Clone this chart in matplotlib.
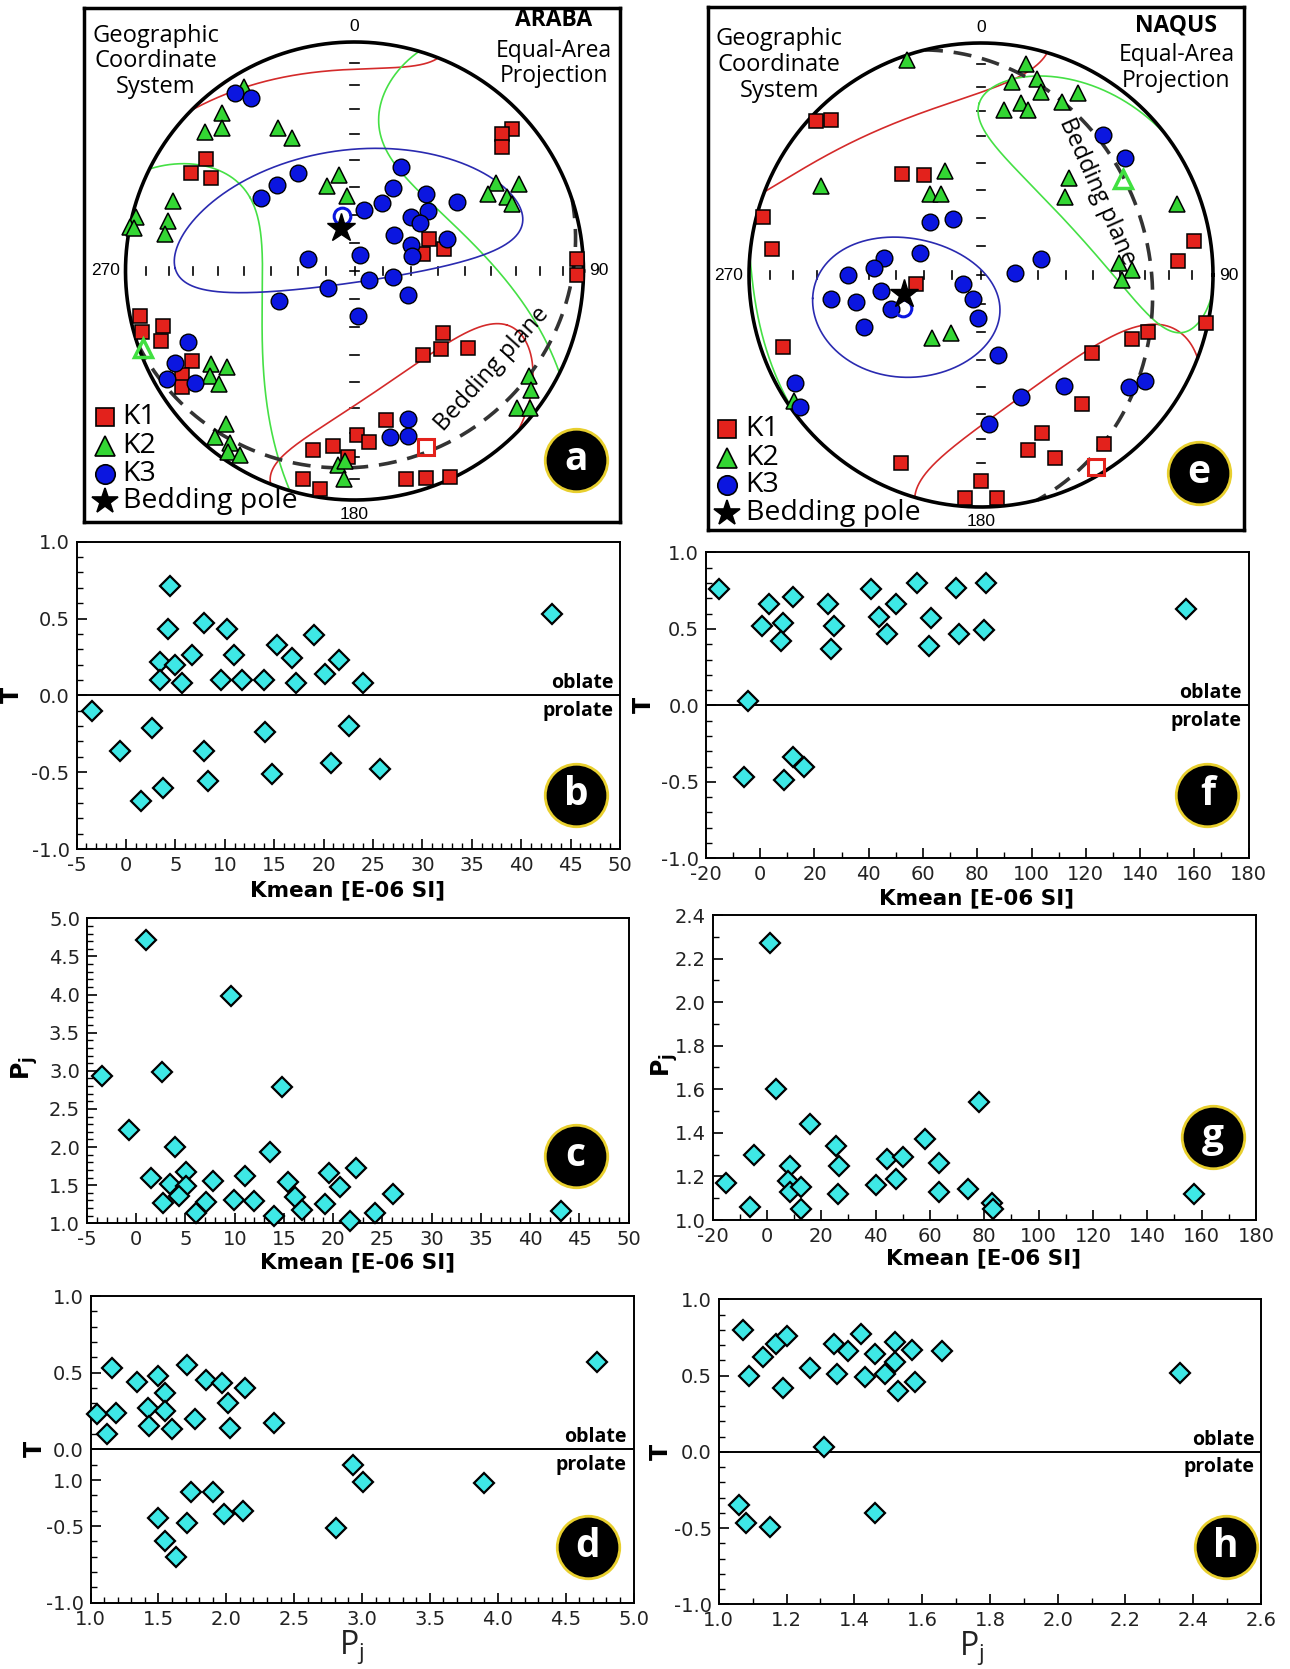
import numpy as np
import matplotlib
matplotlib.use("Agg")
import matplotlib.pyplot as plt
from matplotlib.ticker import MultipleLocator, FormatStrFormatter

plt.rcParams['font.family'] = ['DejaVu Sans']

# ---------------- stereonet data (trend, plunge in degrees) ----------------
# ARABA
araba_k1_trend = [48, 47, 50, 307, 301, 303, 67, 76, 76, 87, 91, 258, 254, 254, 250, 241, 239,
                  236, 125, 132, 141, 124, 168, 179, 175, 187, 193, 182, 194, 189, 166, 161, 155]
araba_k1_plunge = [8, 13, 17, 20, 18, 26, 61, 57, 65, 3, 3, 5, 4, 14, 11, 20, 13,
                   10, 51, 48, 51, 40, 34, 29, 26, 24, 21, 20, 7, 4, 7, 5, 1]
araba_k2_trend = [329, 320, 313, 317, 332, 335, 351, 342, 354, 291, 284, 285, 281, 281, 281, 58, 62, 60,
                  64, 67, 237, 233, 234, 230, 121, 124, 130, 128, 220, 220, 216, 215, 212, 185, 183, 183]
araba_k2_plunge = [7, 11, 12, 16, 30, 36, 55, 58, 63, 16, 2, 17, 0, 2, 17, 28, 20, 33,
                   27, 26, 26, 31, 23, 24, 12, 8, 8, 3, 14, 6, 8, 4, 6, 16, 18, 10]
araba_k3_trend = [326, 329, 330, 318, 308, 24, 25, 43, 56, 22, 9, 46, 51, 54, 48, 65, 71,
                  75, 285, 20, 237, 124, 99, 114, 248, 175, 247, 243, 240, 235, 160, 168, 162]
araba_k3_plunge = [7, 13, 49, 48, 47, 49, 57, 52, 45, 64, 68, 62, 56, 61, 71, 68, 55,
                   69, 73, 84, 79, 84, 76, 69, 61, 74, 22, 13, 6, 16, 32, 27, 25]
araba_mean_trend = [158, 250, 347]
araba_mean_plunge = [18, 2, 70]
araba_pole = (342, 74)
# confidence regions: centre, long-axis direction, semi-angles
araba_regions = [((159, 19), (113, 30), 46, 28),
                 ((247, 2), (307, 44), 66, 43),
                 ((350, 70), (271, 23), 65, 24)]

# NAQUS
naqus_k1_trend = [313, 316, 285, 277, 322, 330, 262, 250, 81, 86, 102, 109, 113, 125, 142, 159,
                  165, 158, 144, 203, 180, 184, 176]
naqus_k1_plunge = [3, 8, 3, 10, 44, 49, 67, 10, 8, 16, 1, 25, 30, 41, 30, 28,
                   23, 16, 11, 13, 12, 4, 4]
naqus_k2_trend = [341, 12, 9, 16, 18, 28, 13, 16, 25, 8, 341, 328, 334, 299, 42, 47, 70, 85,
                  88, 92, 218, 207, 236]
naqus_k2_plunge = [2, 8, 17, 13, 18, 12, 25, 27, 19, 29, 51, 56, 58, 22, 43, 49, 11, 40,
                   35, 39, 62, 67, 3]
naqus_k3_trend = [41, 51, 316, 333, 290, 280, 274, 270, 261, 261, 258, 249, 242, 199, 184, 246,
                  75, 87, 168, 240, 234, 162, 143, 127, 123, 177]
naqus_k3_plunge = [21, 21, 64, 68, 67, 55, 52, 42, 54, 35, 44, 56, 83, 81, 75, 44,
                   68, 78, 61, 8, 4, 44, 40, 21, 17, 36]
naqus_mean_trend = [149, 56, 247]
naqus_mean_plunge = [4, 27, 60]
naqus_pole = (256, 62)
naqus_regions = [((152, 10), (101, 22), 46, 35),
                 ((56, 27), (0, 27), 50, 27),
                 ((247, 60), (262, 28), 34, 24)]

# ---------------- scalar data ----------------
kmean_b = [-3.4, 4.5, 4.3, 7.9, 10.2, 19.0, 15.3, 3.4, 5.0, 6.7, 10.9, 16.8, 21.6, 3.4, 5.7, 9.6, 11.7,
           14.0, 17.2, 20.1, 24.0, 43.1, 2.6, -0.6, 7.9, 14.1, 22.6, 3.8, 1.5, 8.3, 14.8, 20.8, 25.7]
t_b = [-0.10, 0.71, 0.43, 0.47, 0.43, 0.39, 0.33, 0.22, 0.20, 0.26, 0.26, 0.24, 0.23, 0.10, 0.08, 0.10, 0.10,
       0.10, 0.08, 0.14, 0.08, 0.53, -0.21, -0.36, -0.36, -0.24, -0.20, -0.60, -0.69, -0.56, -0.51, -0.44, -0.48]

kmean_f = [-15.1, 3.2, 12.1, 0.6, 8.3, 7.8, 25.1, 27.1, 26.2, 40.7, 43.7, 46.8, 50.0, 57.9, 62.8, 62.3,
           72.0, 73.2, 83.1, 82.5, 157.1, -4.7, -5.9, 8.9, 12.1, 16.2]
t_f = [0.76, 0.66, 0.71, 0.52, 0.54, 0.42, 0.66, 0.52, 0.37, 0.76, 0.58, 0.47, 0.66, 0.80, 0.57, 0.39,
       0.77, 0.47, 0.80, 0.49, 0.63, 0.03, -0.47, -0.49, -0.34, -0.40]

kmean_c = [-3.5, 1.0, 9.6, 2.6, 14.8, -0.7, 3.9, 13.6, 1.5, 3.4, 5.1, 5.1, 4.3, 2.7, 7.8, 11.0,
           9.9, 7.1, 12.0, 6.1, 14.0, 15.4, 16.1, 16.8, 19.6, 19.2, 20.7, 22.3, 21.7, 24.2, 26.1, 43.1]
pj_c = [2.93, 4.71, 3.98, 2.99, 2.79, 2.22, 2.00, 1.94, 1.60, 1.52, 1.67, 1.49, 1.36, 1.26, 1.55, 1.62,
        1.31, 1.28, 1.29, 1.13, 1.10, 1.54, 1.35, 1.17, 1.66, 1.25, 1.47, 1.73, 1.03, 1.14, 1.39, 1.16]

kmean_g = [-15.0, -6.3, -4.7, 1.1, 3.5, 8.6, 7.8, 8.6, 12.4, 12.5, 15.9, 25.3, 26.7, 26.3, 40.3, 44.1,
           47.5, 50.2, 58.3, 63.5, 63.2, 73.9, 78.2, 82.7, 83.1, 157.1]
pj_g = [1.17, 1.06, 1.30, 2.27, 1.60, 1.25, 1.18, 1.13, 1.15, 1.05, 1.44, 1.34, 1.25, 1.12, 1.16, 1.28,
        1.19, 1.29, 1.37, 1.26, 1.13, 1.14, 1.54, 1.08, 1.05, 1.12]

pj_d = [1.05, 1.16, 1.12, 1.19, 1.34, 1.42, 1.43, 1.50, 1.55, 1.55, 1.60, 1.71, 1.77, 1.85, 1.97, 2.01,
        2.03, 2.14, 2.35, 4.73, 2.93, 3.01, 3.90, 1.74, 1.90, 2.12, 1.98, 1.50, 1.71, 1.55, 1.63, 2.81]
t_d = [0.23, 0.53, 0.10, 0.24, 0.44, 0.27, 0.15, 0.48, 0.37, 0.25, 0.13, 0.55, 0.20, 0.45, 0.43, 0.30,
       0.14, 0.40, 0.17, 0.57, -0.10, -0.21, -0.22, -0.28, -0.28, -0.40, -0.42, -0.45, -0.48, -0.60, -0.70, -0.51]

pj_h = [1.07, 1.09, 1.13, 1.17, 1.20, 1.19, 1.27, 1.34, 1.35, 1.38, 1.42, 1.43, 1.46, 1.49, 1.52, 1.52,
        1.53, 1.57, 1.58, 1.66, 2.36, 1.31, 1.06, 1.08, 1.15, 1.46]
t_h = [0.80, 0.50, 0.62, 0.71, 0.76, 0.42, 0.55, 0.71, 0.51, 0.66, 0.77, 0.49, 0.64, 0.51, 0.72, 0.59,
       0.40, 0.67, 0.46, 0.66, 0.52, 0.03, -0.35, -0.47, -0.49, -0.40]

W, H = 1290, 1669
fig = plt.figure(figsize=(W / 100, H / 100), dpi=100)

RED = '#e3221c'
GREEN = '#33d633'
BLUE = '#0b16e0'
CYAN = '#3ee8e6'
YEL = '#e8cf2e'


def px_axes(x0, x1, y0, y1):
    return fig.add_axes([x0 / W, 1 - y1 / H, (x1 - x0) / W, (y1 - y0) / H])


def vec(trend, plunge):
    t = np.radians(np.asarray(trend, dtype=float))
    p = np.radians(np.asarray(plunge, dtype=float))
    return np.array([np.cos(p) * np.sin(t), np.cos(p) * np.cos(t), np.sin(p)])


def project(x, y, z):
    # lower hemisphere equal-area, unit radius
    flip = z < 0
    x = np.where(flip, -x, x)
    y = np.where(flip, -y, y)
    z = np.abs(z)
    s = 1 / np.sqrt(1 + z)
    return x * s, y * s


def break_jumps(X, Y, tol=0.3):
    d = np.hypot(np.diff(X), np.diff(Y))
    idx = np.where(d > tol)[0] + 1
    return np.insert(X, idx, np.nan), np.insert(Y, idx, np.nan)


def conf_region(center, toward, a, b, n=3000):
    m = vec(*center)
    w = vec(*toward)
    u = w - w.dot(m) * m
    u /= np.linalg.norm(u)
    v = np.cross(m, u)
    a, b = np.radians(a), np.radians(b)
    t = np.linspace(0, 2 * np.pi, n)
    rho = a * b / np.sqrt((b * np.cos(t)) ** 2 + (a * np.sin(t)) ** 2)
    d = np.cos(t)[:, None] * u + np.sin(t)[:, None] * v
    pts = np.cos(rho)[:, None] * m + np.sin(rho)[:, None] * d
    X, Y = project(pts[:, 0], pts[:, 1], pts[:, 2])
    return break_jumps(X, Y)


def great_circle(pole, n=400):
    e1 = vec(pole[0] + 90, 0)
    e2 = vec(pole[0] + 180, 90 - pole[1])
    t = np.linspace(0, np.pi, n)
    pts = np.cos(t)[:, None] * e1 + np.sin(t)[:, None] * e2
    return project(pts[:, 0], pts[:, 1], pts[:, 2])


def draw_net(box, cx, cy, R, site, k1, k2, k3, means, pole, regions, letter, texts):
    x0, x1, y0, y1 = box
    ax = px_axes(x0, x1, y0, y1)
    ax.set_xlim((x0 - cx) / R, (x1 - cx) / R)
    ax.set_ylim((cy - y1) / R, (cy - y0) / R)
    ax.set_xticks([])
    ax.set_yticks([])
    for s in ax.spines.values():
        s.set_linewidth(2.5)
    th = np.linspace(0, 2 * np.pi, 600)
    ax.plot(np.cos(th), np.sin(th), color='black', lw=2.6, zorder=5)
    # plunge ticks every 10 degrees on both diameters
    rr = np.sqrt(2) * np.sin(np.radians((90 - np.arange(10, 90, 10)) / 2))
    tl = 0.018
    for r in np.concatenate([rr, -rr]):
        ax.plot([r, r], [-tl, tl], color='black', lw=1.2)
        ax.plot([-tl, tl], [r, r], color='black', lw=1.2)
    ax.plot([-tl, tl], [0, 0], color='black', lw=1.2)
    ax.plot([0, 0], [-tl, tl], color='black', lw=1.2)
    ax.text(0, 1.035, '0', ha='center', va='bottom', fontsize=12.5, family='Liberation Sans')
    ax.text(0, -1.03, '180', ha='center', va='top', fontsize=12.5, family='Liberation Sans')
    ax.text(-1.025, 0, '270', ha='right', va='center', fontsize=12.5, family='Liberation Sans')
    ax.text(1.025, 0, '90', ha='left', va='center', fontsize=12.5, family='Liberation Sans')
    # confidence regions
    for (cen, tow, a, b), col in zip(regions, ['#d42a2a', '#45e045', '#2a2ab0']):
        X, Y = conf_region(cen, tow, a, b)
        ax.plot(X, Y, color=col, lw=1.2, zorder=3)
    # bedding plane
    gx, gy = great_circle(pole)
    ax.plot(gx, gy, color='#333333', lw=2.6, ls=(0, (5, 3)), zorder=4)
    # principal axes
    px, py = project(*vec(*k1))
    ax.plot(px, py, 's', ms=10, mfc=RED, mec='black', mew=1.1, ls='none', zorder=6)
    px, py = project(*vec(*k2))
    ax.plot(px, py, '^', ms=11, mfc=GREEN, mec='black', mew=1.1, ls='none', zorder=6)
    px, py = project(*vec(*k3))
    ax.plot(px, py, 'o', ms=12, mfc=BLUE, mec='black', mew=1.0, ls='none', zorder=6)
    mx, my = project(*vec(*means))
    ax.plot(mx[0], my[0], 's', ms=12, mfc='none', mec=RED, mew=2.2, zorder=7)
    ax.plot(mx[1], my[1], '^', ms=13, mfc='none', mec='#40e040', mew=2.5, zorder=7)
    ax.plot(mx[2], my[2], 'o', ms=12, mfc='none', mec=BLUE, mew=2.2, zorder=7)
    sx, sy = project(*vec(*pole))
    ax.plot(sx, sy, '*', ms=21, mfc='black', mec='black', zorder=8)
    # text blocks
    gxf, gyf, sxf, syf, leg, bed = texts
    ax.text(gxf, 1 - gyf, 'Geographic\nCoordinate\nSystem', transform=ax.transAxes, ha='center',
            va='center', fontsize=17, family='Open Sans', linespacing=1.1, zorder=9)
    ax.text(sxf, 1 - syf[0], site, transform=ax.transAxes, ha='center', va='center',
            fontsize=16.5, family='Open Sans', fontweight='bold', zorder=9)
    ax.text(sxf, 1 - syf[1], 'Equal-Area\nProjection', transform=ax.transAxes, ha='center',
            va='center', fontsize=16.5, family='Open Sans', linespacing=1.1, zorder=9)
    mkx, txx, ys = leg
    styles = [dict(marker='s', ms=13, mfc=RED), dict(marker='^', ms=15, mfc=GREEN),
              dict(marker='o', ms=14, mfc=BLUE), dict(marker='*', ms=19, mfc='black')]
    names = ['K1', 'K2', 'K3', 'Bedding pole']
    for st, nm, yy in zip(styles, names, ys):
        ax.plot([mkx], [1 - yy], transform=ax.transAxes, mec='black', mew=1.2, ls='none',
                clip_on=False, zorder=9, **st)
        ax.text(txx, 1 - yy, nm, transform=ax.transAxes, ha='left', va='center',
                fontsize=20.5, family='Open Sans', zorder=9)
    bx, by, brot = bed
    ax.text(bx, by, 'Bedding plane', rotation=brot, ha='center', va='center', fontsize=17,
            family='Open Sans', rotation_mode='anchor', zorder=9)
    lx, ly = letter[1]
    ax.plot([lx], [ly], 'o', ms=45, mfc='black', mec=YEL, mew=2, transform=ax.transAxes, zorder=10)
    ax.text(lx, ly, letter[0], transform=ax.transAxes, ha='center', va='center', color='white',
            fontsize=28, family='Open Sans', fontweight='bold', zorder=11)
    return ax


draw_net((84, 620, 8, 522), 354.5, 271, 229, 'ARABA',
         (araba_k1_trend, araba_k1_plunge), (araba_k2_trend, araba_k2_plunge),
         (araba_k3_trend, araba_k3_plunge), (araba_mean_trend, araba_mean_plunge),
         araba_pole, araba_regions, ('a', (0.918, 0.121)),
         (0.134, 0.104, 0.876, (0.0235, 0.108),
          (0.039, 0.072, (0.795, 0.852, 0.906, 0.96)), (0.60, -0.43, 48)))

draw_net((708, 1244, 7, 530), 981, 275, 232, 'NAQUS',
         (naqus_k1_trend, naqus_k1_plunge), (naqus_k2_trend, naqus_k2_plunge),
         (naqus_k3_trend, naqus_k3_plunge), (naqus_mean_trend, naqus_mean_plunge),
         naqus_pole, naqus_regions, ('e', (0.916, 0.109)),
         (0.133, 0.111, 0.874, (0.036, 0.117),
          (0.036, 0.070, (0.806, 0.862, 0.914, 0.967)), (0.50, 0.36, -66)))


def scatter_panel(box, x, y, xlim, xmaj, xmin, xfmt, ylim, ymaj, ymin, letter, lpos,
                  ylab, ylab_px, xlab, xlab_px, shape_line=False, yticks=None):
    ax = px_axes(*box)
    ax.plot(x, y, 'D', ms=10.5, mfc=CYAN, mec='black', mew=1.6, ls='none', zorder=5, clip_on=False)
    ax.set_xlim(*xlim)
    ax.set_ylim(*ylim)
    ax.xaxis.set_major_locator(MultipleLocator(xmaj))
    ax.xaxis.set_minor_locator(MultipleLocator(xmin))
    ax.xaxis.set_major_formatter(FormatStrFormatter(xfmt))
    if yticks is None:
        ax.yaxis.set_major_locator(MultipleLocator(ymaj))
        ax.yaxis.set_major_formatter(FormatStrFormatter('%.1f'))
    else:
        ax.set_yticks(yticks[0])
        ax.set_yticklabels(yticks[1])
    ax.yaxis.set_minor_locator(MultipleLocator(ymin))
    ax.tick_params(which='both', direction='in', top=False, right=False, labelsize=14,
                   labelcolor='#222222', pad=5)
    ax.tick_params(which='major', length=7, width=1.2)
    ax.tick_params(which='minor', length=4, width=1.0)
    for s in ax.spines.values():
        s.set_linewidth(1.4)
    if shape_line:
        ax.axhline(0, color='black', lw=1.4, zorder=3)
        ax.text(0.988, 0.08, 'oblate', transform=ax.get_yaxis_transform(), ha='right', va='center',
                fontsize=14, family='Open Sans', fontweight='bold')
        ax.text(0.988, -0.10, 'prolate', transform=ax.get_yaxis_transform(), ha='right', va='center',
                fontsize=14, family='Open Sans', fontweight='bold')
    ax.plot([lpos[0]], [lpos[1]], 'o', ms=45, mfc='black', mec=YEL, mew=2, transform=ax.transAxes,
            zorder=10)
    ax.text(lpos[0], lpos[1], letter, transform=ax.transAxes, ha='center', va='center',
            color='white', fontsize=28, family='Open Sans', fontweight='bold', zorder=11)
    fig.text(ylab_px[0] / W, 1 - ylab_px[1] / H, ylab, rotation=90, ha='center', va='center',
             fontsize=17, fontweight='bold')
    if xlab == 'Kmean [E-06 SI]':
        fig.text(xlab_px[0] / W, 1 - xlab_px[1] / H, xlab, ha='center', va='center',
                 fontsize=15.5, fontweight='bold')
    else:
        fig.text(xlab_px[0] / W, 1 - xlab_px[1] / H, xlab, ha='center', va='center',
                 fontsize=23, family='Open Sans', color='#222222')
    return ax


KLAB = 'Kmean [E-06 SI]'
PJ_BOLD = r'P$_\mathregular{j}$'
PJ = r'P$_\mathregular{j}$'

scatter_panel((76.5, 620, 541.7, 849), kmean_b, t_b, (-5, 50), 5, 1, '%d', (-1, 1), 0.5, 0.1,
              'b', (0.919, 0.177), 'T', (12, 695), KLAB, (348, 890), shape_line=True)
scatter_panel((706, 1248.5, 552.5, 858.3), kmean_f, t_f, (-20, 180), 20, 10, '%d', (-1, 1), 0.5, 0.1,
              'f', (0.924, 0.207), 'T', (644, 705), KLAB, (977, 898), shape_line=True)
scatter_panel((87, 628.6, 918.3, 1223.3), kmean_c, pj_c, (-5, 50), 5, 1, '%d', (1, 5), 0.5, 0.1,
              'c', (0.902, 0.221), PJ_BOLD, (24.5, 1068), KLAB, (358, 1262.7))
scatter_panel((712.6, 1256, 915, 1220), kmean_g, pj_g, (-20, 180), 20, 10, '%d', (1, 2.4), 0.2, 0.1,
              'g', (0.92, 0.273), PJ_BOLD, (665, 1065), KLAB, (984, 1258))
scatter_panel((90.6, 633.5, 1296, 1602.7), pj_d, t_d, (1, 5), 0.5, 0.1, '%.1f', (-1, 1), 0.5, 0.1,
              'd', (0.916, 0.183), 'T', (34.7, 1449), PJ, (352, 1647), shape_line=True,
              yticks=([-1.0, -0.5, -0.2, 0.0, 0.5, 1.0], ['-1.0', '-0.5', '1.0', '0.0', '0.5', '1.0']))
scatter_panel((718.8, 1261, 1299.3, 1604.3), pj_h, t_h, (1, 2.6), 0.2, 0.1, '%.1f', (-1, 1), 0.5, 0.1,
              'h', (0.935, 0.189), 'T', (660.7, 1452), PJ, (972, 1648), shape_line=True)

fig.savefig('out.png', dpi=100, facecolor='white')
